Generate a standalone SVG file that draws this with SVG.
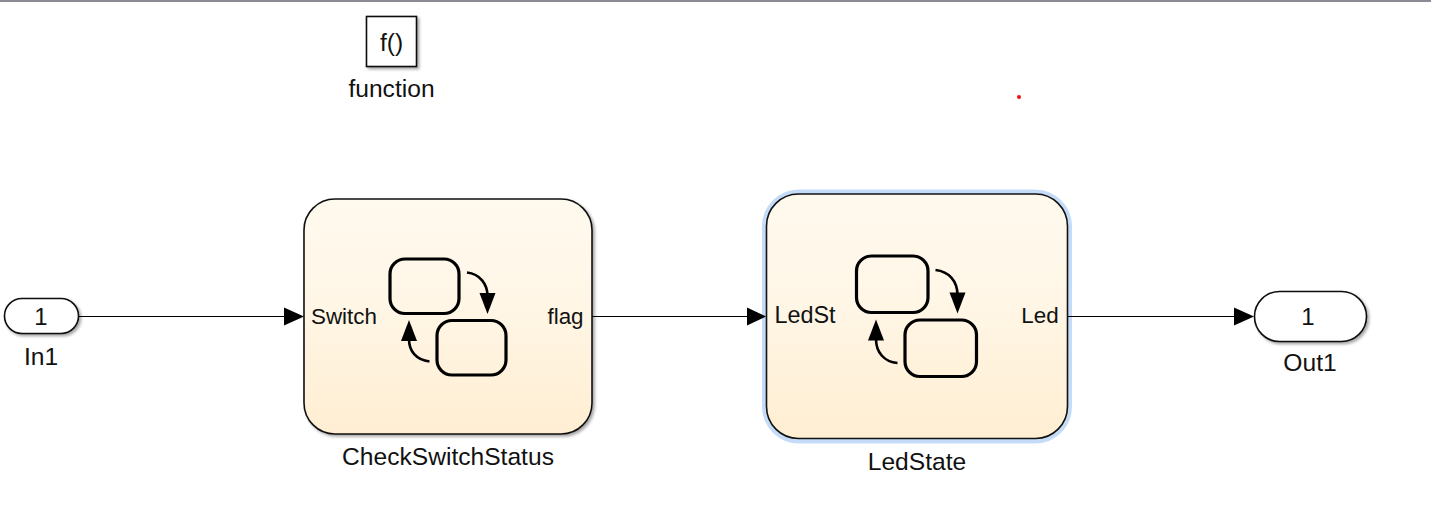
<svg xmlns="http://www.w3.org/2000/svg" width="1431" height="526" viewBox="0 0 1431 526">
<style>
text{font-family:"Liberation Sans",Arial,sans-serif;fill:#111;text-anchor:middle}
.lbl{font-size:24.6px}
.port{font-size:22.4px}
.num{font-size:24px}
.blk{stroke:#111;stroke-width:1.6;filter:url(#sh)}
.st{fill:none;stroke:#000;stroke-width:3.2}
.cv{fill:none;stroke:#000;stroke-width:2.6}
.wire{fill:none;stroke:#000;stroke-width:1.1}
</style>
<defs>
<linearGradient id="g" x1="0" y1="0" x2="0" y2="1"><stop offset="0" stop-color="#fff9ee"/><stop offset="0.45" stop-color="#fff6e6"/><stop offset="1" stop-color="#ffeed2"/></linearGradient>
<filter id="sh" x="-10%" y="-10%" width="125%" height="125%"><feDropShadow dx="2" dy="2" stdDeviation="1.6" flood-color="#000" flood-opacity="0.35"/></filter>
</defs>
<rect width="1431" height="526" fill="#fff"/>
<rect width="1431" height="2" fill="#8b8b96"/>
<circle cx="1019" cy="97" r="2" fill="#f01010"/>
<g id="function">
<rect x="366.500" y="16.500" width="50" height="50" fill="#fff" stroke="#111" stroke-width="1.6" filter="url(#sh)"/>
<text class="lbl" x="391.500" y="50.500">f()</text>
<text class="lbl" x="391.500" y="96.500">function</text>
</g>
<g id="In1">
<rect class="blk" x="4.500" y="298.500" width="74" height="35" rx="17.500" fill="#fff"/>
<text class="num" x="41" y="324.500">1</text>
<text class="lbl" x="41" y="365">In1</text>
</g>
<g id="CheckSwitchStatus">
<rect class="blk" x="304" y="199" width="288" height="235" rx="31" fill="url(#g)"/>
<rect class="st" x="390" y="259" width="69" height="54.500" rx="15"/>
<rect class="st" x="437" y="320.500" width="69" height="54.500" rx="15"/>
<path class="cv" d="M467 272.500C480 274 487.500 284 487.500 296"/>
<path d="M479.500 293H495.500L487.500 314Z"/>
<path class="cv" d="M429.500 361.500C416 360 409 351 409 339"/>
<path d="M401 341H417L409 320Z"/>
<text class="port" x="344" y="323.500">Switch</text>
<text class="port" x="565.500" y="323.500">flag</text>
<text class="lbl" x="448" y="464.500">CheckSwitchStatus</text>
</g>
<g id="LedState">
<rect x="767" y="194.500" width="300" height="244" rx="32" fill="none" stroke="#c4dcf8" stroke-width="10"/>
<rect x="766.500" y="194" width="301" height="244.500" rx="32" fill="url(#g)" stroke="#111" stroke-width="1.6"/>
<rect class="st" x="856.500" y="256" width="71.500" height="56.500" rx="15"/>
<rect class="st" x="905" y="320" width="71.500" height="56.500" rx="15"/>
<path class="cv" d="M935.500 270C949 271.500 957.500 281 957.500 295"/>
<path d="M949.500 292.500H965.500L957.500 313.500Z"/>
<path class="cv" d="M897.500 363C884 362 876 352 876 339"/>
<path d="M868 340.500H884L876 319.500Z"/>
<text class="port" x="805" y="323" style="font-size:23.400px">LedSt</text>
<text class="port" x="1040" y="323">Led</text>
<text class="lbl" x="917" y="470">LedState</text>
</g>
<g id="Out1">
<rect class="blk" x="1254.500" y="291.500" width="112" height="50" rx="25" fill="#fff"/>
<text class="num" x="1308" y="324.500">1</text>
<text class="lbl" x="1310" y="371">Out1</text>
</g>
<g id="connectors">
<path class="wire" d="M79 316.500H285M592 316.500H748M1068 316.500H1235"/>
<path d="M284 307.500L304 316.500L284 325.500Z M747 307.500L766 316.500L747 325.500Z M1234 307.500L1254 316.500L1234 325.500Z"/>
</g>
</svg>
